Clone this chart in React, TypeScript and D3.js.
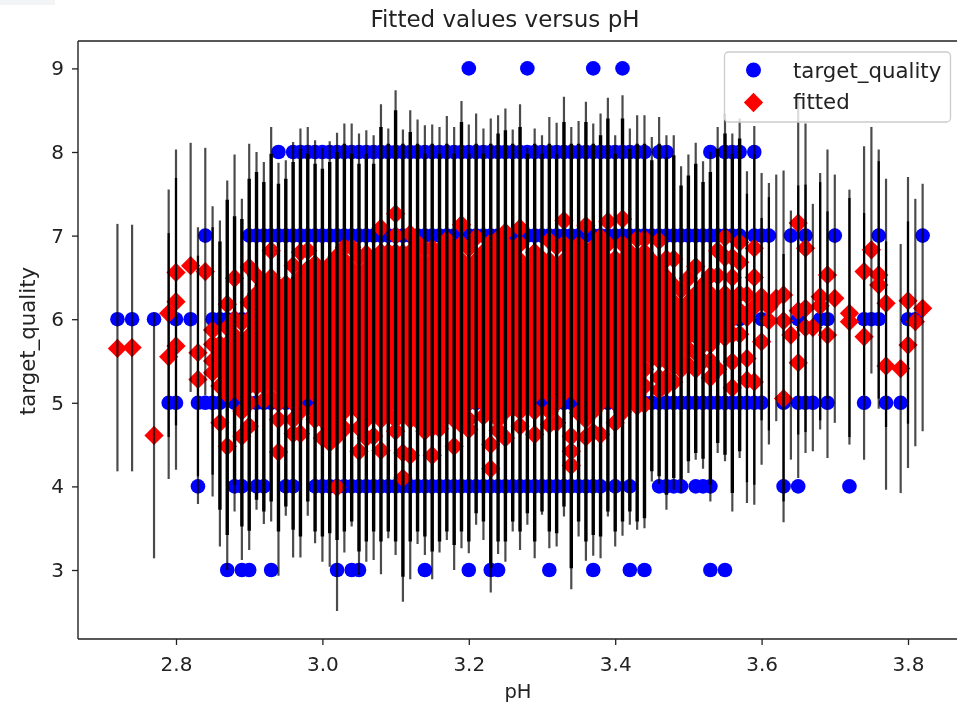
import React, { useEffect, useRef } from "react"
import * as d3 from "d3"

const phGrid = [
    2.72, 2.74, 2.77, 2.79, 2.8, 2.82, 2.83, 2.84,
    2.85, 2.86, 2.87, 2.88, 2.89, 2.9, 2.91, 2.92, 2.93, 2.94,
    2.95, 2.96, 2.97, 2.98, 2.99, 3.0, 3.01, 3.02, 3.03, 3.04,
    3.05, 3.06, 3.07, 3.08, 3.09, 3.1, 3.11, 3.12, 3.13, 3.14,
    3.15, 3.16, 3.17, 3.18, 3.19, 3.2, 3.21, 3.22, 3.23, 3.24,
    3.25, 3.26, 3.27, 3.28, 3.29, 3.3, 3.31, 3.32, 3.33, 3.34,
    3.35, 3.36, 3.37, 3.38, 3.39, 3.4, 3.41, 3.42, 3.43, 3.44,
    3.45, 3.46, 3.47, 3.48, 3.49, 3.5, 3.51, 3.52, 3.53, 3.54,
    3.55, 3.56, 3.57, 3.58, 3.59, 3.6, 3.61, 3.62, 3.63, 3.64,
    3.65, 3.66, 3.67, 3.68, 3.69, 3.7,
    3.72, 3.74, 3.75, 3.76, 3.77, 3.79, 3.8, 3.81, 3.82,
]

// prediction interval ends, same order as phGrid
const whiskerTop = [
    7.14, 7.13, 6.08, 7.55, 8.03, 8.11, 7.1, 8.05,
    7.35, 7.18, 7.66, 7.97, 7.44, 8.1, 8.0, 7.88, 8.3, 7.87,
    7.9, 8.12, 8.28, 8.3, 8.14, 8.05, 8.13, 8.23, 8.34, 8.34,
    8.22, 8.26, 8.2, 8.57, 8.28, 8.74, 8.27, 8.5, 8.39, 8.32,
    8.33, 8.3, 8.43, 8.3, 8.61, 8.33, 8.46, 8.28, 8.4, 8.44,
    8.52, 8.27, 8.57, 8.05, 8.28, 8.2, 8.42, 8.35, 8.66, 8.3,
    8.37, 8.6, 8.34, 8.46, 8.65, 8.2, 8.68, 8.28, 8.44, 8.44,
    8.18, 8.42, 8.2, 8.2, 7.83, 7.97, 8.11, 7.89, 8.0, 8.3,
    8.46, 8.22, 8.4, 7.77, 8.31, 7.75, 7.63, 7.73, 7.78, 7.3,
    8.63, 8.34, 7.38, 7.75, 8.03, 7.73,
    7.55, 8.07, 8.3, 8.03, 7.68, 6.9, 7.7, 7.44, 7.62,
]
const whiskerBottom = [
    4.18, 4.18, 3.14, 4.09, 4.2, 5.13, 3.79, 5.09,
    3.88, 3.28, 3.0, 3.7, 3.12, 3.24, 3.72, 3.55, 3.58, 2.93,
    3.65, 3.15, 3.15, 3.65, 3.32, 3.1, 3.04, 2.51, 3.21, 3.52,
    2.94, 3.1, 3.12, 2.95, 3.38, 3.18, 2.62, 2.89, 3.31, 3.18,
    2.89, 3.21, 3.36, 3.0, 3.26, 3.2, 3.54, 3.36, 2.73, 3.19,
    3.1, 3.46, 3.24, 3.54, 3.14, 3.66, 3.26, 3.28, 3.64, 2.77,
    3.4, 3.11, 3.17, 3.14, 3.64, 3.28, 3.41, 3.54, 3.48, 3.5,
    4.06, 4.03, 3.72, 3.96, 3.92, 4.16, 4.32, 4.21, 3.82, 4.4,
    4.3, 3.7, 4.34, 3.8, 3.78, 4.26, 4.5, 4.78, 3.57, 4.32,
    4.1, 4.4, 4.42, 4.68, 4.34, 4.76,
    4.5, 4.32, 5.35, 4.93, 3.96, 3.92, 4.22, 4.48, 4.66,
]
// where several intervals overlap and the line goes fully dark
const innerTop = [
    null, null, null, 7.03, 7.69, null, 6.76, null,
    7.1, 6.93, 7.43, 7.23, 7.2, 7.68, 7.76, 7.64, 7.98, 7.62,
    7.68, 7.88, 8.04, 7.98, 7.86, 7.8, 7.88, 8.0, 8.1, 7.98,
    7.86, 7.98, 7.86, 8.3, 8.1, 8.5, 8.1, 8.24, 8.1, 7.98,
    8.1, 7.98, 8.1, 7.98, 8.36, 7.98, 8.1, 7.98, 8.1, 8.22,
    8.26, 8.1, 8.3, 7.98, 8.1, 7.98, 8.1, 7.98, 8.36, 8.1,
    8.1, 8.36, 8.1, 8.2, 8.4, 7.98, 8.4, 8.04, 8.1, 8.1,
    7.9, 8.1, 7.94, 7.96, 7.6, 7.72, 7.86, 7.64, 7.76, 8.04,
    8.22, 7.98, 8.16, 7.5, 7.98, 7.21, 7.46, null, 6.78, null,
    7.6, 7.61, null, 7.64, 7.29, null,
    7.45, 7.27, null, 7.89, 6.93, null, 7.17, null, null,
]
const innerBottom = [
    null, null, null, 4.59, 4.73, null, 4.12, null,
    4.14, 3.72, 3.42, 4.02, 3.52, 3.47, 3.84, 3.7, 3.82, 3.46,
    3.76, 3.48, 3.4, 3.82, 3.46, 3.4, 3.44, 3.36, 3.46, 3.58,
    3.22, 3.34, 3.46, 3.34, 3.46, 3.34, 2.92, 3.34, 3.46, 3.4,
    3.22, 3.34, 3.46, 3.3, 3.46, 3.34, 3.68, 3.58, 3.02, 3.34,
    3.34, 3.58, 3.46, 3.68, 3.34, 3.7, 3.46, 3.44, 3.76, 3.02,
    3.58, 3.34, 3.42, 3.4, 3.7, 3.46, 3.58, 3.7, 3.58, 3.62,
    4.18, 4.12, 3.9, 4.1, 4.08, 4.3, 4.4, 4.33, 4.02, 4.52,
    4.38, 3.92, 4.42, 4.05, 4.02, 4.79, 4.67, null, 3.82, null,
    4.62, 4.65, null, 4.79, 5.05, null,
    4.59, 5.09, null, 5.05, 4.71, null, 4.75, null, null,
]

// fitted values at each pH in phGrid
const fittedByPh = [
    [5.65], [5.66], [4.61], [6.07, 5.55], [6.56, 6.21, 5.68], [6.64], [5.6, 5.28], [6.57],
    [5.87, 5.7, 5.5, 5.36],
    [5.7, 5.6, 5.4, 5.2, 4.76],
    [6.18, 5.9, 5.7, 5.5, 5.3, 5.1, 4.48],
    [6.49, 6.0, 5.8, 5.6, 5.4, 5.2],
    [5.96, 5.7, 5.5, 5.3, 5.1, 4.9, 4.6],
    [6.62, 6.2, 6.0, 5.8, 5.6, 5.4, 5.2, 5.0, 4.72],
    [6.52, 6.3, 6.1, 5.9, 5.7, 5.5, 5.3, 5.2],
    [6.4, 6.2, 6.0, 5.8, 5.6, 5.4, 5.2, 5.03],
    [6.82, 6.5, 6.3, 6.1, 5.9, 5.7, 5.5, 5.3, 5.06],
    [6.39, 6.2, 6.0, 5.8, 5.6, 5.4, 5.2, 5.0, 4.8, 4.41],
    [6.42, 6.3, 6.1, 5.9, 5.7, 5.5, 5.3, 5.13],
    [6.64, 6.4, 6.2, 6.0, 5.8, 5.6, 5.4, 5.2, 5.0, 4.8, 4.63],
    [6.8, 6.5, 6.3, 6.1, 5.9, 5.7, 5.5, 5.3, 5.1, 4.9, 4.63],
    [6.82, 6.6, 6.4, 6.2, 6.0, 5.8, 5.6, 5.4, 5.2, 5.13],
    [6.66, 6.5, 6.3, 6.1, 5.9, 5.7, 5.5, 5.3, 5.1, 4.9, 4.8],
    [6.57, 6.4, 6.2, 6.0, 5.8, 5.6, 5.4, 5.2, 5.0, 4.8, 4.58],
    [6.65, 6.5, 6.3, 6.1, 5.9, 5.7, 5.5, 5.3, 5.1, 4.9, 4.7, 4.52],
    [6.75, 6.6, 6.4, 6.2, 6.0, 5.8, 5.6, 5.4, 5.2, 5.0, 4.8, 4.6, 3.99],
    [6.86, 6.7, 6.5, 6.3, 6.1, 5.9, 5.7, 5.5, 5.3, 5.1, 4.9, 4.69],
    [6.86, 6.6, 6.4, 6.2, 6.0, 5.8, 5.6, 5.4, 5.2, 5.0],
    [6.74, 6.5, 6.3, 6.1, 5.9, 5.7, 5.5, 5.3, 5.1, 4.9, 4.7, 4.42],
    [6.78, 6.6, 6.4, 6.2, 6.0, 5.8, 5.6, 5.4, 5.2, 5.0, 4.8, 4.58],
    [6.72, 6.5, 6.3, 6.1, 5.9, 5.7, 5.5, 5.3, 5.1, 4.9, 4.6],
    [7.09, 6.8, 6.6, 6.4, 6.2, 6.0, 5.8, 5.6, 5.4, 5.2, 5.0, 4.8, 4.43],
    [6.8, 6.7, 6.5, 6.3, 6.1, 5.9, 5.7, 5.5, 5.3, 5.1, 4.86],
    [7.26, 7.0, 6.8, 6.6, 6.4, 6.2, 6.0, 5.8, 5.6, 5.4, 5.2, 5.0, 4.8, 4.66],
    [6.79, 6.7, 6.5, 6.3, 6.1, 5.9, 5.7, 5.5, 5.3, 5.1, 4.9, 4.4, 4.1],
    [7.02, 6.8, 6.6, 6.4, 6.2, 6.0, 5.8, 5.6, 5.4, 5.2, 5.0, 4.8, 4.37],
    [6.91, 6.7, 6.5, 6.3, 6.1, 5.9, 5.7, 5.5, 5.3, 5.1, 4.9, 4.79],
    [6.84, 6.6, 6.4, 6.2, 6.0, 5.8, 5.6, 5.4, 5.2, 5.0, 4.8, 4.66],
    [6.85, 6.7, 6.5, 6.3, 6.1, 5.9, 5.7, 5.5, 5.3, 5.1, 4.9, 4.7, 4.37],
    [6.82, 6.6, 6.4, 6.2, 6.0, 5.8, 5.6, 5.4, 5.2, 5.0, 4.8, 4.69],
    [6.95, 6.7, 6.5, 6.3, 6.1, 5.9, 5.7, 5.5, 5.3, 5.1, 4.9, 4.84],
    [6.82, 6.6, 6.4, 6.2, 6.0, 5.8, 5.6, 5.4, 5.2, 5.0, 4.8, 4.48],
    [7.13, 6.9, 6.7, 6.5, 6.3, 6.1, 5.9, 5.7, 5.5, 5.3, 5.1, 4.9, 4.74],
    [6.85, 6.6, 6.4, 6.2, 6.0, 5.8, 5.6, 5.4, 5.2, 5.0, 4.8, 4.68],
    [6.98, 6.7, 6.5, 6.3, 6.1, 5.9, 5.7, 5.5, 5.3, 5.1, 5.02],
    [6.8, 6.6, 6.4, 6.2, 6.0, 5.8, 5.6, 5.4, 5.2, 5.0, 4.84],
    [6.92, 6.7, 6.5, 6.3, 6.1, 5.9, 5.7, 5.5, 5.3, 5.1, 4.9, 4.5, 4.21],
    [6.96, 6.8, 6.6, 6.4, 6.2, 6.0, 5.8, 5.6, 5.4, 5.2, 5.0, 4.8, 4.67],
    [7.04, 6.9, 6.7, 6.5, 6.3, 6.1, 5.9, 5.7, 5.5, 5.3, 5.1, 4.9, 4.58],
    [6.79, 6.6, 6.4, 6.2, 6.0, 5.8, 5.6, 5.4, 5.2, 5.0, 4.94],
    [7.09, 6.9, 6.7, 6.5, 6.3, 6.1, 5.9, 5.7, 5.5, 5.3, 5.1, 4.9, 4.72],
    [6.57, 6.4, 6.2, 6.0, 5.8, 5.6, 5.4, 5.2, 5.02],
    [6.8, 6.7, 6.5, 6.3, 6.1, 5.9, 5.7, 5.5, 5.3, 5.1, 4.9, 4.62],
    [6.72, 6.6, 6.4, 6.2, 6.0, 5.8, 5.6, 5.4, 5.2, 5.14],
    [6.94, 6.7, 6.5, 6.3, 6.1, 5.9, 5.7, 5.5, 5.3, 5.1, 4.9, 4.74],
    [6.87, 6.6, 6.4, 6.2, 6.0, 5.8, 5.6, 5.4, 5.2, 5.0, 4.76],
    [7.18, 6.9, 6.7, 6.5, 6.3, 6.1, 5.9, 5.7, 5.5, 5.3, 5.12],
    [6.82, 6.6, 6.4, 6.2, 6.0, 5.8, 5.6, 5.4, 5.2, 4.6, 4.42, 4.25],
    [6.89, 6.7, 6.5, 6.3, 6.1, 5.9, 5.7, 5.5, 5.3, 5.1, 4.88],
    [7.12, 6.8, 6.6, 6.4, 6.2, 6.0, 5.8, 5.6, 5.4, 5.2, 5.0, 4.8, 4.59],
    [6.86, 6.7, 6.5, 6.3, 6.1, 5.9, 5.7, 5.5, 5.3, 5.1, 4.9, 4.65],
    [6.98, 6.8, 6.6, 6.4, 6.2, 6.0, 5.8, 5.6, 5.4, 5.2, 5.0, 4.62],
    [7.17, 6.9, 6.7, 6.5, 6.3, 6.1, 5.9, 5.7, 5.5, 5.3, 5.12],
    [6.72, 6.6, 6.4, 6.2, 6.0, 5.8, 5.6, 5.4, 5.2, 5.0, 4.76],
    [7.2, 6.9, 6.7, 6.5, 6.3, 6.1, 5.9, 5.7, 5.5, 5.3, 5.1, 4.89],
    [6.8, 6.6, 6.4, 6.2, 6.0, 5.8, 5.6, 5.4, 5.2, 5.02],
    [6.96, 6.7, 6.5, 6.3, 6.1, 5.9, 5.7, 5.5, 5.3, 5.1, 4.96],
    [6.96, 6.8, 6.6, 6.4, 6.2, 6.0, 5.8, 5.6, 5.4, 5.2, 4.98],
    [6.7, 6.5, 6.3, 6.1, 5.9, 5.7, 5.54],
    [6.94, 6.6, 6.4, 6.2, 6.0, 5.8, 5.6, 5.51, 5.3, 5.15],
    [6.72, 6.5, 6.3, 6.1, 5.9, 5.7, 5.5, 5.3, 5.2],
    [6.72, 6.4, 6.2, 6.0, 5.8, 5.6, 5.44, 5.25],
    [6.35, 6.1, 5.9, 5.7, 5.5, 5.4],
    [6.49, 6.2, 6.0, 5.8, 5.64, 5.45],
    [6.63, 6.3, 6.1, 5.92, 5.8, 5.6, 5.4],
    [6.41, 6.2, 6.0, 5.8, 5.69, 5.5],
    [6.52, 6.3, 6.1, 5.9, 5.7, 5.5, 5.3],
    [6.82, 6.52, 6.2, 6.0, 5.8, 5.4],
    [6.98, 6.74, 6.3, 6.1, 5.9, 5.78],
    [6.74, 6.5, 6.2, 6.0, 5.82, 5.49, 5.18],
    [6.92, 6.68, 6.3, 6.1, 5.82],
    [6.29, 6.02, 5.53, 5.27],
    [6.85, 6.5, 6.15, 5.25],
    [6.27, 5.73],
    [6.15, 5.98],
    [6.25],
    [6.29, 5.98, 5.05],
    [5.81],
    [7.15, 6.1, 5.48],
    [6.85, 6.13, 5.9],
    [5.9],
    [6.27, 6.16],
    [6.53, 5.81],
    [6.25],
    [6.07, 5.97],
    [6.57, 5.79],
    [6.83],
    [6.53, 6.41],
    [6.19, 5.44],
    [5.41],
    [6.22, 5.69],
    [5.97],
    [6.13],
]

const phQuality9 = [3.2, 3.28, 3.37, 3.41]
const phQuality8 = [
    2.94, 2.96, 2.97, 2.98, 2.99, 3.0, 3.01, 3.02, 3.03, 3.04, 3.05, 3.06, 3.07, 3.08, 3.09, 3.1, 3.11,
    3.12, 3.13, 3.14, 3.15, 3.16, 3.17, 3.18, 3.19, 3.2, 3.21, 3.22, 3.23, 3.24, 3.25, 3.26, 3.27, 3.28,
    3.29, 3.3, 3.31, 3.32, 3.33, 3.34, 3.35, 3.36, 3.37, 3.38, 3.39, 3.4, 3.41, 3.42, 3.43, 3.44, 3.46,
    3.47, 3.53, 3.55, 3.56, 3.57, 3.59,
]
const phQuality7 = [
    2.84, 2.9, 2.91, 2.92, 2.93, 2.94, 2.95, 2.96, 2.97, 2.98, 2.99, 3.0, 3.01, 3.02, 3.03, 3.04, 3.05,
    3.06, 3.07, 3.08, 3.09, 3.1, 3.11, 3.12, 3.13, 3.14, 3.15, 3.16, 3.17, 3.18, 3.19, 3.2, 3.21, 3.22,
    3.23, 3.24, 3.25, 3.26, 3.27, 3.28, 3.29, 3.3, 3.31, 3.32, 3.33, 3.34, 3.35, 3.36, 3.37, 3.38, 3.39,
    3.4, 3.41, 3.42, 3.43, 3.44, 3.45, 3.46, 3.47, 3.48, 3.49, 3.5, 3.51, 3.52, 3.53, 3.54, 3.55, 3.56,
    3.57, 3.59, 3.6, 3.61, 3.64, 3.66, 3.7, 3.76, 3.82,
]
const phQuality6 = [
    2.72, 2.74, 2.77, 2.8, 2.82, 2.85, 2.86, 2.87, 2.88, 2.89, 2.9, 2.95, 3.0, 3.1, 3.2, 3.3, 3.4,
    3.5, 3.57, 3.6, 3.65, 3.68, 3.69, 3.74, 3.75, 3.76, 3.8, 3.81,
]
const phQuality5 = [
    2.79, 2.8, 2.83, 2.84, 2.85, 2.86, 2.88, 2.89, 2.9, 2.91, 2.92, 2.93, 2.94, 2.95, 2.96, 2.97, 2.98,
    2.99, 3.0, 3.01, 3.02, 3.03, 3.04, 3.05, 3.06, 3.07, 3.08, 3.09, 3.1, 3.11, 3.12, 3.13, 3.14, 3.15,
    3.16, 3.17, 3.18, 3.19, 3.2, 3.21, 3.22, 3.23, 3.24, 3.25, 3.26, 3.27, 3.28, 3.29, 3.3, 3.31, 3.32,
    3.33, 3.34, 3.35, 3.36, 3.37, 3.38, 3.39, 3.4, 3.41, 3.42, 3.43, 3.44, 3.45, 3.46, 3.47, 3.48, 3.49,
    3.5, 3.51, 3.52, 3.53, 3.54, 3.55, 3.56, 3.57, 3.58, 3.59, 3.6, 3.63, 3.65, 3.66, 3.67, 3.69, 3.74,
    3.77, 3.79,
]
const phQuality4 = [
    2.83, 2.88, 2.89, 2.91, 2.92, 2.95, 2.96, 2.99, 3.0, 3.01, 3.02, 3.03, 3.04, 3.05, 3.06, 3.07, 3.08,
    3.09, 3.1, 3.11, 3.12, 3.13, 3.14, 3.15, 3.16, 3.17, 3.18, 3.19, 3.2, 3.21, 3.22, 3.23, 3.24, 3.25,
    3.26, 3.27, 3.28, 3.29, 3.3, 3.31, 3.32, 3.33, 3.34, 3.35, 3.36, 3.37, 3.38, 3.4, 3.42, 3.46, 3.47,
    3.48, 3.49, 3.51, 3.52, 3.53, 3.63, 3.65, 3.72,
]
const phQuality3 = [
    2.87, 2.89, 2.9, 2.93, 3.02, 3.04, 3.05, 3.14, 3.2, 3.23, 3.24, 3.31, 3.37, 3.42, 3.44, 3.53, 3.55,
]

const qualityRows: [number, number[]][] = [
    [9, phQuality9],
    [8, phQuality8],
    [7, phQuality7],
    [6, phQuality6],
    [5, phQuality5],
    [4, phQuality4],
    [3, phQuality3],
]

const xTicks = [2.8, 3.0, 3.2, 3.4, 3.6, 3.8]
const yTicks = [3, 4, 5, 6, 7, 8, 9]
const legendLabels = ["target_quality", "fitted"]

const WIDTH = 957
const HEIGHT = 704
const FONT = "DejaVu Sans"
const TICK_SIZE = 20
const TEXT_COLOUR = "#222"

const App = () => {
    const svgRef = useRef<SVGSVGElement | null>(null)

    useEffect(() => {
        const root = d3.select(svgRef.current)
        root.selectAll("*").remove()

        // the reference is a slightly upscaled screenshot, so everything is a little soft
        root.append("defs")
            .append("filter")
            .attr("id", "soft")
            .attr("x", 0)
            .attr("y", 0)
            .attr("width", "100%")
            .attr("height", "100%")
            .append("feGaussianBlur")
            .attr("stdDeviation", 0.4)
        const svg = root.append("g").attr("filter", "url(#soft)")

        const plot = { left: 78, right: 957, top: 41, bottom: 639 }
        const x = d3.scaleLinear().domain([2.8, 3.8]).range([176, 908])
        const y = d3.scaleLinear().domain([3, 9]).range([570, 68.4])

        svg.append("rect").attr("x", 0).attr("y", 0).attr("width", WIDTH).attr("height", HEIGHT).attr("fill", "#fff")
        svg.append("rect").attr("x", 0).attr("y", 0).attr("width", 55).attr("height", 5).attr("fill", "#f3f4f6")

        const diamond = d3.symbol().type(d3.symbolSquare).size(186)

        // observed quality
        qualityRows.forEach(([quality, phs]) => {
            svg.append("g")
                .selectAll("circle")
                .data(phs)
                .enter()
                .append("circle")
                .attr("cx", (d) => x(d))
                .attr("cy", y(quality))
                .attr("r", 7.3)
                .attr("fill", "#0000ff")
        })

        // fitted diamonds
        const fittedGroup = svg.append("g")
        phGrid.forEach((ph, i) => {
            fittedGroup
                .selectAll(null)
                .data(fittedByPh[i])
                .enter()
                .append("path")
                .attr("d", diamond)
                .attr("transform", (d) => `translate(${x(ph)},${y(d)}) rotate(45)`)
                .attr("fill", "#ff0000")
        })

        // whiskers go on top of the markers, like in the original
        const whiskers = svg.append("g").attr("stroke", "#000")
        whiskers
            .selectAll("line")
            .data(phGrid)
            .enter()
            .append("line")
            .attr("x1", (d) => x(d))
            .attr("x2", (d) => x(d))
            .attr("y1", (d, i) => y(whiskerTop[i]))
            .attr("y2", (d, i) => y(whiskerBottom[i]))
            .attr("stroke-width", 2.2)
            .attr("stroke-opacity", 0.7)
        const innerIdx = d3.range(phGrid.length).filter((i) => innerTop[i] !== null)
        whiskers
            .selectAll("line.inner")
            .data(innerIdx)
            .enter()
            .append("line")
            .attr("class", "inner")
            .attr("x1", (i) => x(phGrid[i]))
            .attr("x2", (i) => x(phGrid[i]))
            .attr("y1", (i) => y(innerTop[i] as number))
            .attr("y2", (i) => y(innerBottom[i] as number))
            .attr("stroke-width", (i) => (fittedByPh[i].length >= 5 ? 3.4 : 2.2))

        // spines, no right one because the picture is cut off there
        const spines = svg.append("g").attr("stroke", "#222").attr("stroke-width", 1.4)
        spines.append("line").attr("x1", plot.left).attr("x2", plot.right).attr("y1", plot.top).attr("y2", plot.top)
        spines.append("line").attr("x1", plot.left).attr("x2", plot.right).attr("y1", plot.bottom).attr("y2", plot.bottom)
        spines.append("line").attr("x1", plot.left).attr("x2", plot.left).attr("y1", plot.top).attr("y2", plot.bottom)

        const xAxis = svg
            .append("g")
            .attr("transform", `translate(0,${plot.bottom})`)
            .call(d3.axisBottom(x).tickValues(xTicks).tickFormat(d3.format(".1f")).tickSize(6).tickPadding(12))
        const yAxis = svg
            .append("g")
            .attr("transform", `translate(${plot.left},0)`)
            .call(d3.axisLeft(y).tickValues(yTicks).tickFormat(d3.format("d")).tickSize(6).tickPadding(8))
        ;[xAxis, yAxis].forEach((axis) => {
            axis.select(".domain").remove()
            axis.selectAll("line").attr("stroke", "#222").attr("stroke-width", 1.3)
            axis.selectAll("text").attr("font-family", FONT).attr("font-size", TICK_SIZE).attr("fill", TEXT_COLOUR)
        })

        svg.append("text")
            .attr("x", 505)
            .attr("y", 27)
            .attr("text-anchor", "middle")
            .attr("font-family", FONT)
            .attr("font-size", 23)
            .attr("fill", TEXT_COLOUR)
            .text("Fitted values versus pH")
        svg.append("text")
            .attr("x", 518)
            .attr("y", 698)
            .attr("text-anchor", "middle")
            .attr("font-family", FONT)
            .attr("font-size", 19.5)
            .attr("fill", TEXT_COLOUR)
            .text("pH")
        svg.append("text")
            .attr("transform", "translate(35,341) rotate(-90)")
            .attr("text-anchor", "middle")
            .attr("font-family", FONT)
            .attr("font-size", 21.3)
            .attr("fill", TEXT_COLOUR)
            .text("target_quality")

        // legend
        const legend = svg.append("g")
        legend
            .append("rect")
            .attr("x", 724.5)
            .attr("y", 52)
            .attr("width", 226)
            .attr("height", 70)
            .attr("rx", 4)
            .attr("fill", "#fff")
            .attr("fill-opacity", 0.8)
            .attr("stroke", "#ccc")
            .attr("stroke-width", 1.3)
        legend.append("circle").attr("cx", 753.5).attr("cy", 70).attr("r", 7.5).attr("fill", "#0000ff")
        legend
            .append("path")
            .attr("d", diamond)
            .attr("transform", "translate(753.5,102.5) rotate(45)")
            .attr("fill", "#ff0000")
        legend
            .selectAll("text")
            .data(legendLabels)
            .enter()
            .append("text")
            .attr("x", 793)
            .attr("y", (d, i) => 77.5 + i * 31.5)
            .attr("font-family", FONT)
            .attr("font-size", 21.3)
            .attr("fill", TEXT_COLOUR)
            .text((d) => d)
    }, [])

    return (
        <svg
            ref={svgRef}
            width={WIDTH}
            height={HEIGHT}
            style={{ position: "absolute", left: 0, top: 0, display: "block", background: "#fff" }}
        />
    )
}

export default App
